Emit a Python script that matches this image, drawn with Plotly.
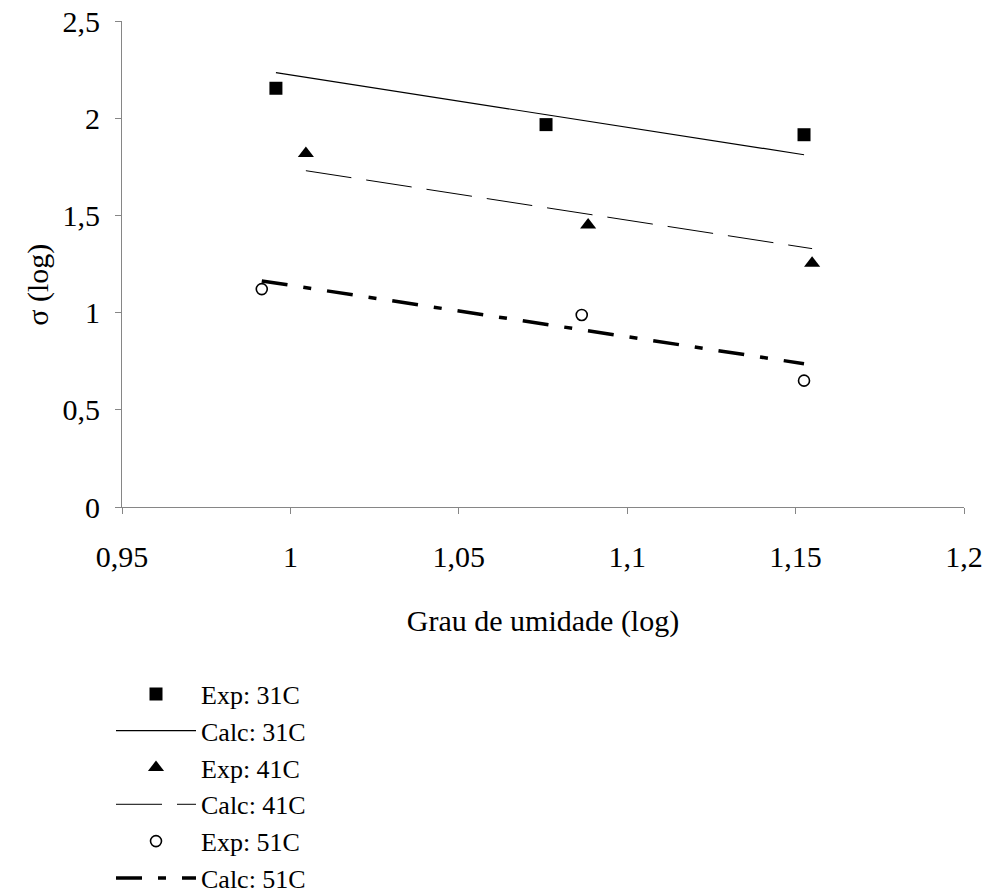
import plotly.graph_objects as go

# ---- data ----
exp31_x = [0.9957, 1.0759, 1.1525]
exp31_y = [2.154, 1.967, 1.915]
calc31_x = [0.9957, 1.0759, 1.1525]
calc31_y = [2.234, 2.018, 1.812]

exp41_x = [1.0046, 1.0884, 1.1549]
exp41_y = [1.819, 1.451, 1.254]
calc41_x = [1.0046, 1.0884, 1.1549]
calc41_y = [1.730, 1.506, 1.329]

exp51_x = [0.9915, 1.0865, 1.1525]
exp51_y = [1.121, 0.988, 0.650]
calc51_x = [0.9915, 1.0865, 1.1525]
calc51_y = [1.163, 0.912, 0.737]

x_tickvals = [0.95, 1.0, 1.05, 1.1, 1.15, 1.2]
x_ticktext = ["0,95", "1", "1,05", "1,1", "1,15", "1,2"]
y_tickvals = [0, 0.5, 1, 1.5, 2, 2.5]
y_ticktext = ["0", "0,5", "1", "1,5", "2", "2,5"]

FONT = "Liberation Serif"

fig = go.Figure()
fig.add_trace(go.Scatter(x=exp31_x, y=exp31_y, mode="markers", name="Exp: 31C",
                         marker=dict(symbol="square", size=13, color="black")))
fig.add_trace(go.Scatter(x=calc31_x, y=calc31_y, mode="lines", name="Calc: 31C",
                         line=dict(color="black", width=1.2)))
fig.add_trace(go.Scatter(x=exp41_x, y=exp41_y, mode="markers", name="Exp: 41C",
                         marker=dict(symbol="triangle-up", size=14, color="black")))
fig.add_trace(go.Scatter(x=calc41_x, y=calc41_y, mode="lines", name="Calc: 41C",
                         line=dict(color="black", width=1, dash="46px,15px")))
fig.add_trace(go.Scatter(x=exp51_x, y=exp51_y, mode="markers", name="Exp: 51C",
                         marker=dict(symbol="circle", size=11, color="white",
                                     line=dict(color="black", width=1.6))))
fig.add_trace(go.Scatter(x=calc51_x, y=calc51_y, mode="lines", name="Calc: 51C",
                         line=dict(color="black", width=3.5, dash="26px,16px,8px,16px")))

axis_common = dict(showgrid=False, zeroline=False, showline=True, linecolor="#868686",
                   linewidth=1, ticks="outside", ticklen=6, tickcolor="#868686",
                   automargin=False, ticklabeloverflow="allow",
                   tickfont=dict(family=FONT, size=30, color="black"))

fig.update_xaxes(range=[0.95, 1.2], tickvals=x_tickvals, ticktext=x_ticktext,
                 ticklabelstandoff=17,
                 title=dict(text="Grau de umidade (log)", font=dict(family=FONT, size=30, color="black"),
                            standoff=37),
                 **axis_common)
fig.update_yaxes(range=[0, 2.5], tickvals=y_tickvals, ticktext=y_ticktext,
                 ticklabelstandoff=9, **axis_common)

fig.add_annotation(text="σ (log)", textangle=-90, xref="paper", yref="paper",
                   x=-0.1, y=0.457, xanchor="center", yanchor="middle", showarrow=False,
                   font=dict(family=FONT, size=30, color="black"))

fig.update_layout(
    width=991, height=896,
    margin=dict(l=122, r=27, t=21, b=389, autoexpand=False),
    plot_bgcolor="white", paper_bgcolor="white",
    font=dict(family=FONT, size=30, color="black"),
    showlegend=True,
    legend=dict(x=-0.01306, y=-0.3364, xanchor="left", yanchor="top",
                font=dict(family=FONT, size=26, color="black"),
                itemwidth=80, tracegroupgap=0, bgcolor="rgba(0,0,0,0)"),
)

# remove the default 8px page margin so the figure fills the window exactly
fig.write_html("out.html", config={"displayModeBar": False},
               post_script="document.body.style.margin='0';")
